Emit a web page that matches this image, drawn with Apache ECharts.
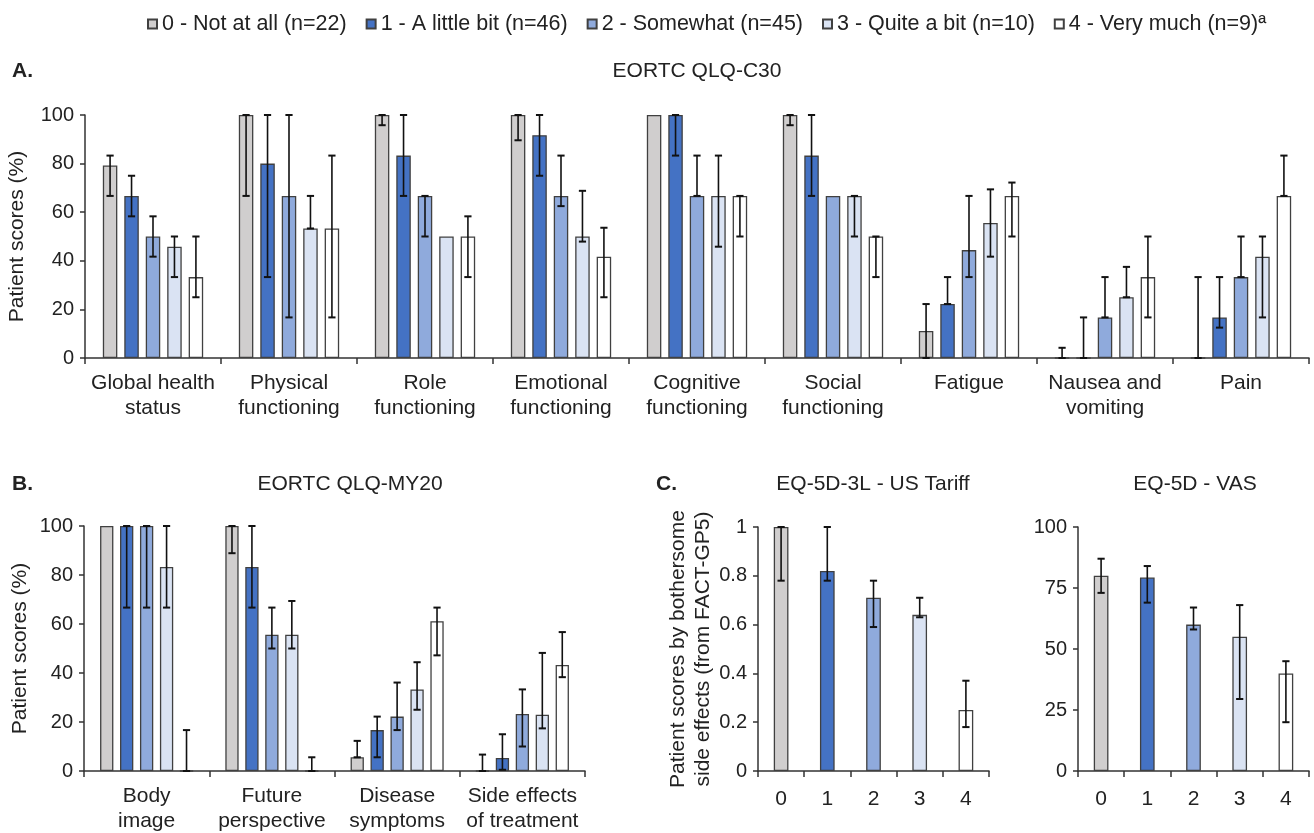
<!DOCTYPE html>
<html>
<head>
<meta charset="utf-8">
<script src="https://cdn.jsdelivr.net/npm/echarts@6/dist/echarts.min.js"></script>
<style>
html,body{margin:0;padding:0;background:#fff;}
#chart{width:1314px;height:833px;}
</style>
</head>
<body>
<div id="chart"></div>
<script>
// ---------- DATA ----------
const levelNames = ['0 - Not at all (n=22)', '1 - A little bit (n=46)', '2 - Somewhat (n=45)', '3 - Quite a bit (n=10)', '4 - Very much (n=9)\u00aa'];
const levelColors = ['#d0cece', '#4472c4', '#8faadc', '#dae3f3', '#ffffff'];

const c30Categories = ['Global health\nstatus', 'Physical\nfunctioning', 'Role\nfunctioning', 'Emotional\nfunctioning', 'Cognitive\nfunctioning', 'Social\nfunctioning', 'Fatigue', 'Nausea and\nvomiting', 'Pain'];
const c30Values = [
  [79.2, 100, 100, 100, 100, 100, 11.1, 0, 0],
  [66.7, 80, 83.3, 91.7, 100, 83.3, 22.2, 0, 16.7],
  [50, 66.7, 66.7, 66.7, 66.7, 66.7, 44.4, 16.7, 33.3],
  [45.8, 53.3, 50, 50, 66.7, 66.7, 55.6, 25, 41.7],
  [33.3, 53.3, 50, 41.7, 66.7, 50, 66.7, 33.3, 66.7]
];
const c30Low = [
  [66.7, 66.7, 95.8, 89.6, 100, 95.8, 0, 0, 0],
  [58.3, 33.3, 66.7, 75, 83.3, 66.7, 22.2, 0, 12.5],
  [41.7, 16.7, 50, 62.5, 66.7, 66.7, 33.3, 16.7, 33.3],
  [33.3, 53.3, 50, 47.9, 45.8, 50, 41.7, 25, 16.7],
  [25, 16.7, 33.3, 25, 50, 33.3, 50, 16.7, 66.7]
];
const c30High = [
  [83.3, 100, 100, 100, 100, 100, 22.2, 4.2, 33.3],
  [75, 100, 100, 100, 100, 100, 33.3, 16.7, 33.3],
  [58.3, 100, 66.7, 83.3, 83.3, 66.7, 66.7, 33.3, 50],
  [50, 66.7, 50, 68.8, 83.3, 66.7, 69.4, 37.5, 50],
  [50, 83.3, 58.3, 53.6, 66.7, 50, 72.2, 50, 83.3]
];

const my20Categories = ['Body\nimage', 'Future\nperspective', 'Disease\nsymptoms', 'Side effects\nof treatment'];
const my20Values = [
  [100, 100, 5.6, 0],
  [100, 83.3, 16.7, 5.3],
  [100, 55.6, 22.2, 23.3],
  [83.3, 55.6, 33.3, 23],
  [0, 0, 61.1, 43.3]
];
const my20Low = [
  [100, 88.9, 5.6, 0],
  [66.7, 66.7, 5.6, 0.5],
  [66.7, 50, 16.7, 10],
  [66.7, 50, 25, 17.4],
  [0, 0, 47.2, 38.3]
];
const my20High = [
  [100, 100, 12.3, 6.7],
  [100, 100, 22.2, 15],
  [100, 66.7, 36.1, 33.3],
  [100, 69.4, 44.4, 48.2],
  [16.7, 5.6, 66.7, 56.7]
];

const eqCategories = ['0', '1', '2', '3', '4'];
const tariffValues = [1, 0.82, 0.71, 0.64, 0.25];
const tariffLow = [0.78, 0.78, 0.59, 0.63, 0.18];
const tariffHigh = [1, 1, 0.78, 0.71, 0.37];
const vasValues = [80, 79.3, 60, 55, 40];
const vasLow = [73, 69, 58, 29.5, 20];
const vasHigh = [87, 84, 67, 68, 45];

// ---------- STYLE ----------
const FONT = '"Liberation Sans", Arial, sans-serif';
const TXT = '#222';
const AX = '#333';
const BORDER = '#404040';
const FS = 21;

const chart = echarts.init(document.getElementById('chart'), null, {renderer: 'canvas'});

function xAxisFor(gridIndex, cats, margin) {
  return {
    type: 'category', gridIndex, data: cats,
    axisLine: {show: true, lineStyle: {color: AX, width: 1.5}},
    axisTick: {show: true, length: 6, lineStyle: {color: AX, width: 1.5}},
    axisLabel: {color: TXT, fontSize: FS, fontFamily: FONT, lineHeight: 25, margin: margin, interval: 0},
    splitLine: {show: false}
  };
}
function yAxisFor(gridIndex, max, interval, name, nameGap) {
  return {
    type: 'value', gridIndex, min: 0, max: max, interval: interval,
    name: name, nameLocation: 'middle', nameGap: nameGap,
    nameTextStyle: {color: TXT, fontSize: FS, fontFamily: FONT, lineHeight: 25},
    axisLine: {show: true, lineStyle: {color: AX, width: 1.5}},
    axisTick: {show: true, length: 5, lineStyle: {color: AX, width: 1.5}},
    axisLabel: {color: TXT, fontSize: 20, fontFamily: FONT, margin: 11},
    splitLine: {show: false}
  };
}

function errorSeries(axisIndex, lows, highs, offsetPx) {
  const data = lows.map((lo, i) => [i, lo, highs[i]]);
  return {
    type: 'custom', xAxisIndex: axisIndex, yAxisIndex: axisIndex, z: 10,
    silent: true,
    data: data,
    encode: {x: 0, y: [1, 2]},
    renderItem: function (params, api) {
      const i = api.value(0), lo = api.value(1), hi = api.value(2);
      if (lo === hi) return null;
      const pLo = api.coord([i, lo]);
      const pHi = api.coord([i, hi]);
      const x = pLo[0] + offsetPx;
      const cap = 3.6;
      const st = {stroke: '#111', lineWidth: 1.6};
      const capSt = {stroke: '#111', lineWidth: 2};
      return {
        type: 'group',
        children: [
          {type: 'line', shape: {x1: x, y1: pLo[1], x2: x, y2: pHi[1]}, style: st},
          {type: 'line', shape: {x1: x - cap, y1: pLo[1], x2: x + cap, y2: pLo[1]}, style: capSt},
          {type: 'line', shape: {x1: x - cap, y1: pHi[1], x2: x + cap, y2: pHi[1]}, style: capSt}
        ]
      };
    }
  };
}

const series = [];
// Panel A
const aBarW = 14.5, aGap = 0.48;
levelNames.forEach((nm, k) => {
  series.push({
    type: 'bar', name: nm, xAxisIndex: 0, yAxisIndex: 0,
    data: c30Values[k], barWidth: aBarW, barGap: (aGap * 100) + '%',
    itemStyle: {color: levelColors[k], borderColor: BORDER, borderWidth: 1.3},
    emphasis: {disabled: true}
  });
});
levelNames.forEach((nm, k) => {
  series.push(errorSeries(0, c30Low[k], c30High[k], (k - 2) * aBarW * (1 + aGap)));
});
// Panel B
const bBarW = 13.3, bGap = 0.5;
levelNames.forEach((nm, k) => {
  series.push({
    type: 'bar', name: nm, xAxisIndex: 1, yAxisIndex: 1,
    data: my20Values[k], barWidth: bBarW, barGap: (bGap * 100) + '%',
    itemStyle: {color: levelColors[k], borderColor: BORDER, borderWidth: 1.3},
    emphasis: {disabled: true}
  });
});
levelNames.forEach((nm, k) => {
  series.push(errorSeries(1, my20Low[k], my20High[k], (k - 2) * bBarW * (1 + bGap)));
});
// Panel C
series.push({
  type: 'bar', name: 'US Tariff', xAxisIndex: 2, yAxisIndex: 2, barWidth: 14.7,
  data: tariffValues.map((v, i) => ({value: v, itemStyle: {color: levelColors[i]}})),
  itemStyle: {borderColor: BORDER, borderWidth: 1.3}, emphasis: {disabled: true}
});
series.push(errorSeries(2, tariffLow, tariffHigh, 0));
series.push({
  type: 'bar', name: 'VAS', xAxisIndex: 3, yAxisIndex: 3, barWidth: 14.7,
  data: vasValues.map((v, i) => ({value: v, itemStyle: {color: levelColors[i]}})),
  itemStyle: {borderColor: BORDER, borderWidth: 1.3}, emphasis: {disabled: true}
});
series.push(errorSeries(3, vasLow, vasHigh, 0));

function label(text, x, y, bold, align) {
  return {type: 'text', x: x, y: y, silent: true,
    style: {text: text, fill: TXT, font: (bold ? 'bold ' : '') + FS + 'px ' + FONT,
      textAlign: align || 'left', textVerticalAlign: 'middle'}};
}

const option = {
  animation: false,
  backgroundColor: '#fff',
  textStyle: {fontFamily: FONT},
  legend: {
    data: levelNames, top: 8, left: 142,
    itemWidth: 9, itemHeight: 9, itemGap: 19,
    icon: 'rect',
    selectedMode: false,
    textStyle: {color: TXT, fontSize: 21.5, fontFamily: FONT}
  },
  grid: [
    {left: 85, top: 115, width: 1224, height: 243, containLabel: false, outerBoundsMode: 'none'},
    {left: 84, top: 526, width: 501, height: 245, containLabel: false, outerBoundsMode: 'none'},
    {left: 758, top: 527, width: 231, height: 244, containLabel: false, outerBoundsMode: 'none'},
    {left: 1078, top: 527, width: 231, height: 244, containLabel: false, outerBoundsMode: 'none'}
  ],
  xAxis: [
    xAxisFor(0, c30Categories, 13),
    xAxisFor(1, my20Categories, 13),
    xAxisFor(2, eqCategories, 16),
    xAxisFor(3, eqCategories, 16)
  ],
  yAxis: [
    yAxisFor(0, 100, 20, 'Patient scores (%)', 52),
    yAxisFor(1, 100, 20, 'Patient scores (%)', 51),
    yAxisFor(2, 1, 0.2, 'Patient scores by bothersome\nside effects (from FACT-GP5)', 39),
    yAxisFor(3, 100, 25, '', 0)
  ],
  graphic: [
    label('A.', 12, 71, true),
    label('EORTC QLQ-C30', 697, 71, false, 'center'),
    label('B.', 12, 484, true),
    label('EORTC QLQ-MY20', 350, 484, false, 'center'),
    label('C.', 656, 484, true),
    label('EQ-5D-3L - US Tariff', 873, 484, false, 'center'),
    label('EQ-5D - VAS', 1195, 484, false, 'center')
  ],
  series: series
};
chart.setOption(option);
</script>
</body>
</html>
